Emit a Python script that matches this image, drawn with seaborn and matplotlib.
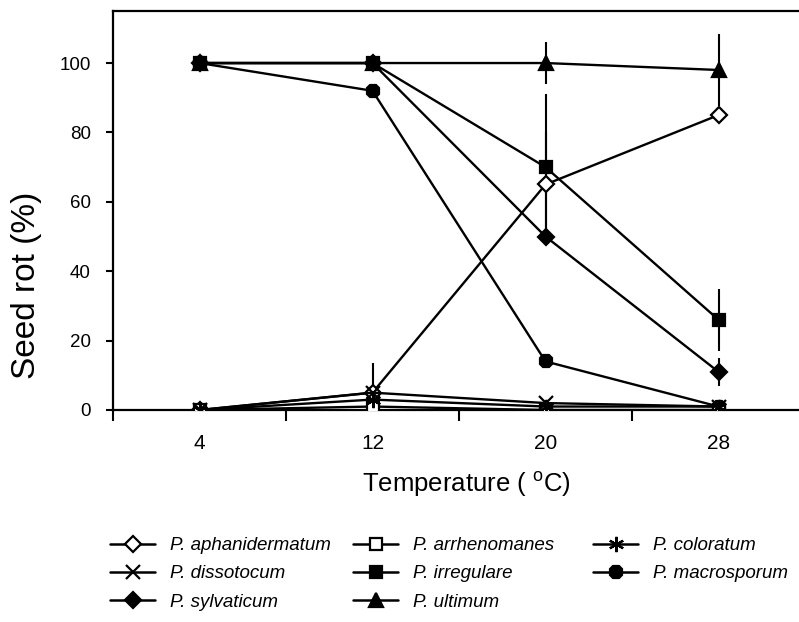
import matplotlib
matplotlib.use("Agg")
import matplotlib.pyplot as plt
from matplotlib.lines import Line2D
import seaborn as sns

temps = [4, 12, 20, 28]
species = ["P. aphanidermatum", "P. arrhenomanes", "P. coloratum", "P. dissotocum",
           "P. irregulare", "P. macrosporum", "P. sylvaticum", "P. ultimum"]
aphanidermatum = [0, 5, 65, 85]
arrhenomanes = [0, 1, 0, 0]
coloratum = [0, 3, 1, 1]
dissotocum = [0, 5, 2, 1]
irregulare = [100, 100, 70, 26]
macrosporum = [100, 92, 14, 1]
sylvaticum = [100, 100, 50, 11]
ultimum = [100, 100, 100, 98]

err_aphanidermatum = [0, 0, 15, 0]
err_arrhenomanes = [0, 0, 0, 0]
err_coloratum = [0, 0, 0, 0]
err_dissotocum = [0, 8.5, 0, 0]
err_irregulare = [0, 0, 21, 9]
err_macrosporum = [0, 2, 0, 0]
err_sylvaticum = [0, 0, 0, 4]
err_ultimum = [0, 0, 6, 10.5]

values = [aphanidermatum, arrhenomanes, coloratum, dissotocum,
          irregulare, macrosporum, sylvaticum, ultimum]
errors = [err_aphanidermatum, err_arrhenomanes, err_coloratum, err_dissotocum,
          err_irregulare, err_macrosporum, err_sylvaticum, err_ultimum]

styles = {
    "P. aphanidermatum": dict(marker="D", mfc="white", ms=8),
    "P. arrhenomanes": dict(marker="s", mfc="white", ms=8),
    "P. coloratum": dict(marker=(6, 2, 0), mfc="black", ms=11),
    "P. dissotocum": dict(marker="x", mfc="black", ms=10),
    "P. irregulare": dict(marker="s", mfc="black", ms=9),
    "P. macrosporum": dict(marker="8", mfc="black", ms=10),
    "P. sylvaticum": dict(marker="D", mfc="black", ms=8),
    "P. ultimum": dict(marker="^", mfc="black", ms=10),
}

sns.set_style("ticks", rc={"text.color": "black", "axes.labelcolor": "black",
                           "xtick.color": "black", "ytick.color": "black",
                           "axes.edgecolor": "black"})
plt.rcParams["font.family"] = ["Liberation Sans", "DejaVu Sans"]

W, H = 799, 622
fig = plt.figure(figsize=(W / 100, H / 100), dpi=100)
ax = fig.add_axes([113 / W, 1 - 410 / H, 692 / W, 399 / H])

draw_order = [7, 4, 6, 5, 0, 1, 2, 3]
handles = {}
for i in draw_order:
    name = species[i]
    st = styles[name]
    ax.errorbar(temps, values[i], yerr=errors[i], fmt="none", ecolor="black",
                elinewidth=1.5, capsize=0, zorder=2)
    sns.lineplot(x=temps, y=values[i], ax=ax, color="black", linewidth=1.7,
                 marker=st["marker"], markersize=st["ms"],
                 markerfacecolor=st["mfc"], markeredgecolor="black",
                 markeredgewidth=1.6, zorder=3, legend=False)
    handles[name] = Line2D([], [], color="black", linewidth=1.8,
                           marker=st["marker"], markersize=st["ms"],
                           markerfacecolor=st["mfc"], markeredgecolor="black",
                           markeredgewidth=1.6)

ax.set_xlim(0, 32)
ax.set_ylim(0, 115)
ax.set_xticks([0, 8, 16, 24, 32])
ax.set_xticklabels([])
ax.set_xticks(temps, minor=True)
ax.set_xticklabels([str(t) for t in temps], minor=True)
ax.tick_params(axis="x", which="major", direction="out", length=8, width=1.5)
ax.tick_params(axis="x", which="minor", length=0, pad=17, labelsize=15)
ax.set_yticks([0, 20, 40, 60, 80, 100])
ax.tick_params(axis="y", direction="out", length=5, width=1.5, labelsize=13.5, pad=11)
for s in ax.spines.values():
    s.set_linewidth(1.6)
    s.set_visible(True)

ax.set_xlabel("Temperature ( $^{\\mathregular{o}}$C)", fontsize=18.5)
ax.xaxis.set_label_coords((466 - 113) / 692, (410 - 469) / 399)
ax.set_ylabel("Seed rot (%)", fontsize=24)
ax.yaxis.set_label_coords((42 - 113) / 692, (410 - 285) / 399)

columns = [["P. aphanidermatum", "P. dissotocum", "P. sylvaticum"],
           ["P. arrhenomanes", "P. irregulare", "P. ultimum"],
           ["P. coloratum", "P. macrosporum"]]
col_x = [110, 353, 593]
for names, cx in zip(columns, col_x):
    fig.legend([handles[n] for n in names], names, ncol=1, frameon=False,
               loc="upper left", bbox_to_anchor=(cx / W, 1 - 537 / H),
               prop={"style": "italic", "size": 13.5}, handlelength=2.4,
               handletextpad=0.8, labelspacing=0.6, borderpad=0,
               borderaxespad=0)

fig.savefig("out.png", dpi=100)
